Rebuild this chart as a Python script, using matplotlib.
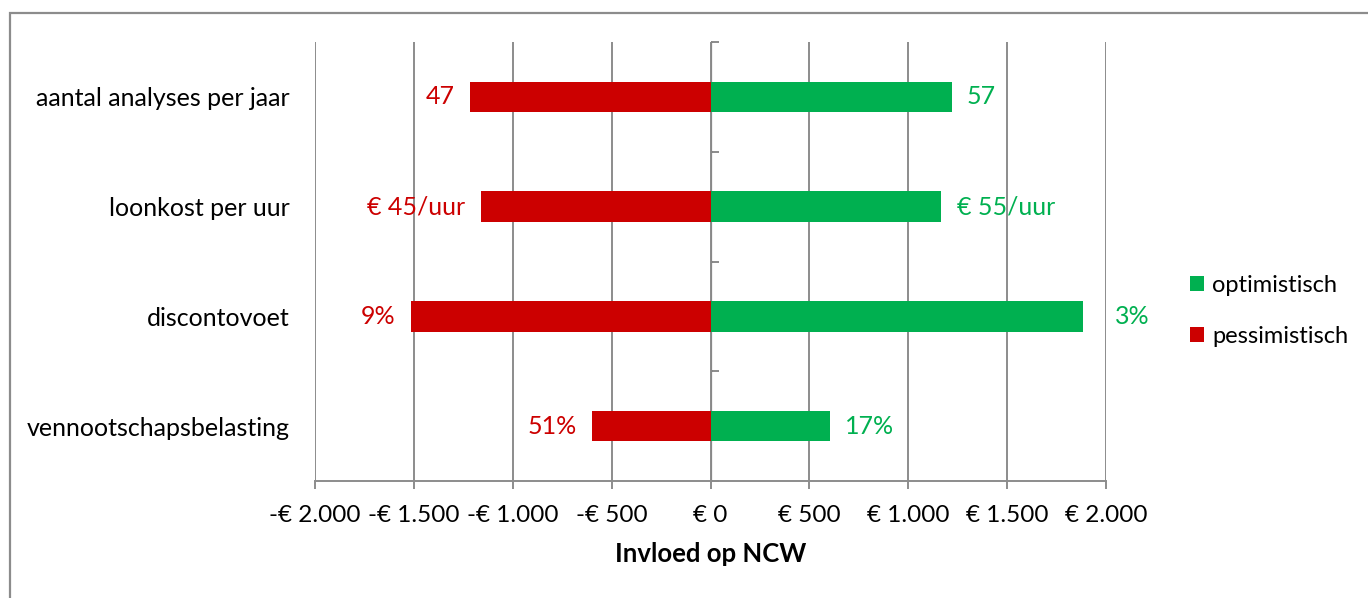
import matplotlib.pyplot as plt
from matplotlib.patches import Rectangle
from matplotlib.ticker import FuncFormatter, MultipleLocator

plt.rcParams['font.family'] = ['Lato', 'DejaVu Sans']

categories = ["aantal analyses per jaar", "loonkost per uur", "discontovoet",
              "vennootschapsbelasting"]
optimistisch = [1219, 1168, 1886, 602]
pessimistisch = [-1214, -1162, -1517, -597]
opt_labels = ["57", "€ 55/uur", "3%", "17%"]
pes_labels = ["47", "€ 45/uur", "9%", "51%"]

green = "#00B050"
red = "#CC0000"
grid_col = "#8C8C8C"
fs = 18

fig = plt.figure(figsize=(13.68, 5.98), dpi=100)
ax = fig.add_axes([315 / 1368, 1 - 481 / 598, (1106 - 315) / 1368, (481 - 42) / 598])

# outer chart frame (runs off the right and bottom edge)
fig.patches.append(Rectangle((10 / 1368, -0.05), 1.2, 1 - 13 / 598 + 0.05,
                             transform=fig.transFigure, fill=False,
                             edgecolor=grid_col, linewidth=1.6))

y = list(range(len(categories)))
ax.barh(y, optimistisch, height=0.28, color=green, label="optimistisch", zorder=3)
ax.barh(y, pessimistisch, height=0.28, color=red, label="pessimistisch", zorder=3)

# value labels beside the bar ends
extra = [0, 0, 12, 0]
for i in y:
    ax.annotate(opt_labels[i], (optimistisch[i], i), xytext=(11 + extra[i], 0),
                textcoords="offset points", ha="left", va="center",
                color=green, fontsize=fs)
    ax.annotate(pes_labels[i], (pessimistisch[i], i), xytext=(-11, 0),
                textcoords="offset points", ha="right", va="center",
                color=red, fontsize=fs)

ax.set_xlim(-2000, 2000)
ax.set_ylim(3.5, -0.5)
ax.xaxis.set_major_locator(MultipleLocator(500))


def euro(v, pos):
    s = f"{abs(int(v)):,}".replace(",", ".")
    return ("-€ " if v < 0 else "€ ") + s


ax.xaxis.set_major_formatter(FuncFormatter(euro))
ax.grid(axis="x", color=grid_col, linewidth=1.4, zorder=0)
ax.set_axisbelow(True)

for s in ["top", "right", "left"]:
    ax.spines[s].set_visible(False)
ax.spines["bottom"].set_color(grid_col)
ax.spines["bottom"].set_linewidth(1.4)
ax.tick_params(axis="x", colors=grid_col, length=6, width=1.4, labelsize=17.5,
               labelcolor="black", pad=11)

ax.set_yticks(y)
ax.set_yticklabels(categories, fontsize=fs)
ax.tick_params(axis="y", length=0, pad=18)

# central category axis with ticks between the categories
mid = ax.secondary_yaxis(0.5)
mid.set_yticks([-0.5, 0.5, 1.5, 2.5, 3.5])
mid.set_yticklabels([])
mid.spines["left"].set_color(grid_col)
mid.spines["left"].set_linewidth(1.4)
mid.tick_params(axis="y", direction="out", length=6, width=1.4, colors=grid_col)

ax.set_xlabel("Invloed op NCW", fontsize=18.5, fontweight="bold", labelpad=12)

fig.legend(loc="center left", bbox_to_anchor=(1190 / 1368, 1 - 311 / 598),
           frameon=False, fontsize=17, handlelength=0.6, handleheight=0.6,
           handletextpad=0.35, labelspacing=1.25, borderpad=0, borderaxespad=0)

fig.savefig("out.png", dpi=100)
